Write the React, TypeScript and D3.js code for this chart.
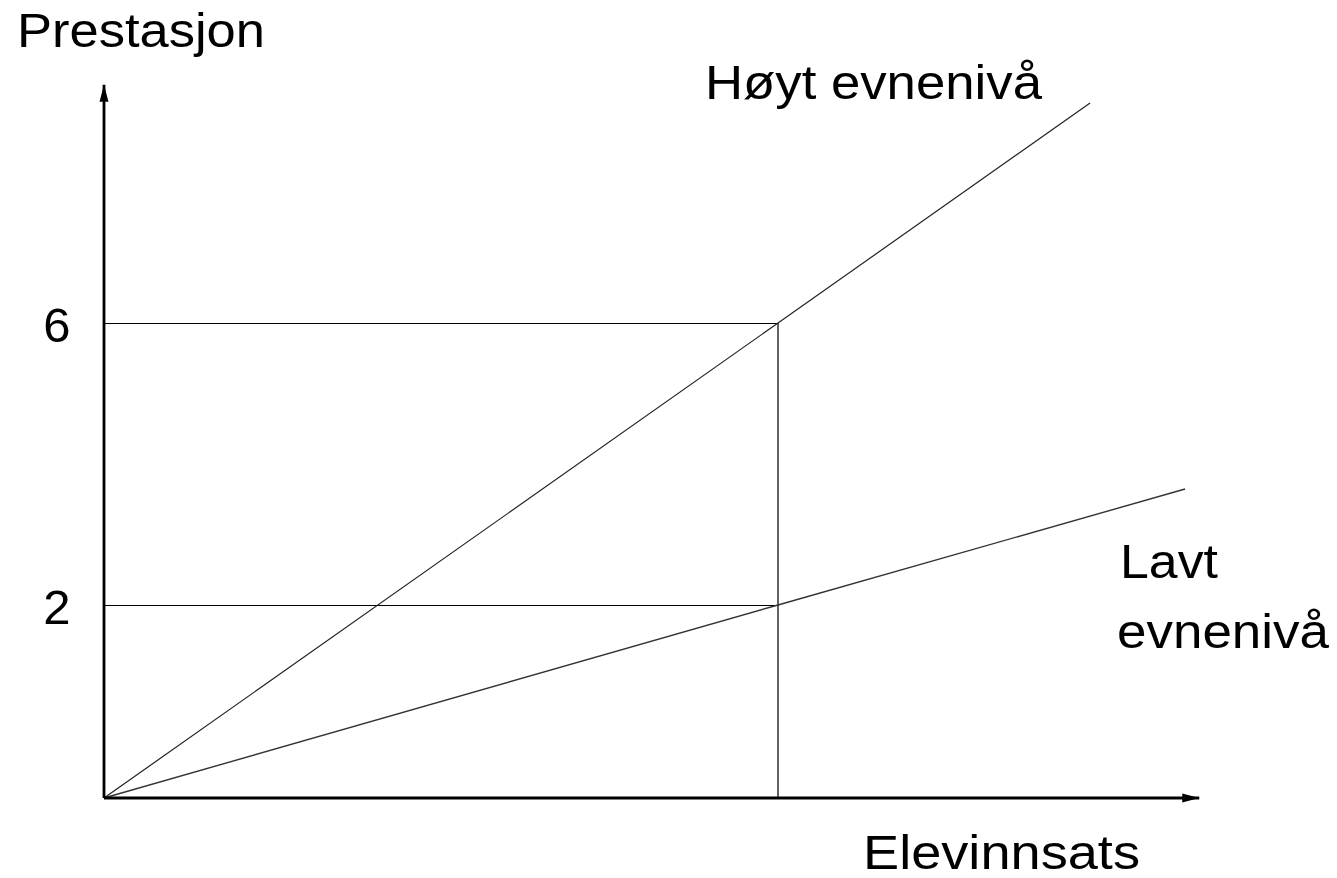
import React from 'react';
import * as d3 from 'd3';

// Prestasjon som funksjon av elevinnsats, for to evnenivå

const width = 1337;
const height = 878;

const yTicks = [2, 6];
const guideEffort = 1;
const axisEnd = { x: 1.625, y: 9.38 };

const highAbility = [
  { x: 0, y: 0 },
  { x: 1, y: 6 },
  { x: 1.463, y: 9.12 },
];

const lowAbility = [
  { x: 0, y: 0 },
  { x: 1, y: 2 },
  { x: 1.604, y: 3.645 },
];

const FONT = '"Liberation Sans", Arial, sans-serif';

const App = () => {
  const xScale = d3.scaleLinear().domain([0, 1]).range([104, 778]);
  // the drawing is not to scale: 0-2 and 2-6 have different lengths
  const yScale = d3.scaleLinear().domain([0, 2, 6]).range([798, 605, 323]);

  const line = d3.line<{ x: number; y: number }>()
    .x(d => xScale(d.x))
    .y(d => yScale(d.y));

  const x0 = xScale(0);
  const y0 = yScale(0);

  return (
    <svg
      width={width}
      height={height}
      viewBox={`0 0 ${width} ${height}`}
      style={{ position: 'absolute', left: 0, top: 0, background: '#fff' }}
    >
      <defs>
        <marker id="arrow" markerUnits="userSpaceOnUse" markerWidth={18} markerHeight={10}
          refX={17} refY={5} orient="auto">
          <path d="M0,0.5 L17,5 L0,9.5 Z" fill="#000" />
        </marker>
      </defs>

      {/* guide lines */}
      {yTicks.map(t => (
        <line key={t} x1={x0} x2={xScale(guideEffort)} y1={yScale(t)} y2={yScale(t)}
          stroke="#000" strokeWidth={1} shapeRendering="crispEdges" />
      ))}
      <line x1={xScale(guideEffort)} x2={xScale(guideEffort)} y1={yScale(0)} y2={yScale(6)}
        stroke="#222" strokeWidth={1.4} />

      {/* series */}
      <path d={line(highAbility) ?? ''} fill="none" stroke="#222" strokeWidth={1.2} />
      <path d={line(lowAbility) ?? ''} fill="none" stroke="#333" strokeWidth={1.4} />

      {/* axes */}
      <line x1={x0} y1={y0} x2={x0} y2={yScale(axisEnd.y)} stroke="#000" strokeWidth={2.8}
        markerEnd="url(#arrow)" />
      <line x1={x0} y1={y0} x2={xScale(axisEnd.x)} y2={y0} stroke="#000" strokeWidth={2.8}
        markerEnd="url(#arrow)" />

      {/* tick labels */}
      {yTicks.map(t => (
        <text key={t} x={57} y={yScale(t) + 19} textAnchor="middle" fontFamily={FONT}
          fontSize={49}>{t}</text>
      ))}

      <g fontFamily={FONT} fontSize={49} fill="#000">
        <text x={17} y={47} textLength={248} lengthAdjust="spacingAndGlyphs">Prestasjon</text>
        <text x={863} y={869} textLength={277} lengthAdjust="spacingAndGlyphs">Elevinnsats</text>
        <text x={705} y={99} textLength={337} lengthAdjust="spacingAndGlyphs">Høyt evnenivå</text>
        <text x={1120} y={578} textLength={98} lengthAdjust="spacingAndGlyphs">Lavt</text>
        <text x={1117} y={648} textLength={212} lengthAdjust="spacingAndGlyphs">evnenivå</text>
      </g>
    </svg>
  );
};

export default App;
